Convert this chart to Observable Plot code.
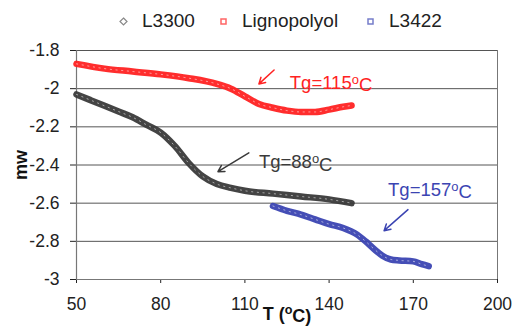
<!DOCTYPE html>
<html>
<head>
<meta charset="utf-8">
<script src="https://cdn.jsdelivr.net/npm/d3@7"></script>
<script src="https://cdn.jsdelivr.net/npm/@observablehq/plot@0.6"></script>
<style>
  html, body { margin: 0; padding: 0; background: #fff; }
  body { width: 514px; height: 327px; overflow: hidden; font-family: "Liberation Sans", Arial, sans-serif; }
  #legend { position: relative; width: 514px; height: 36px; font-size: 19px; color: #222; }
  #legend .item { position: absolute; top: 10px; display: flex; align-items: center; line-height: 22px; }
  #legend svg { margin-right: 14px; }
  g[aria-label="y-axis label"] text, g[aria-label="x-axis label"] text { font-weight: bold; font-size: 18px; fill: #111; }
</style>
</head>
<body>
<div id="legend"></div>
<div id="chart"></div>
<script>
// ---- data ----
const seriesNames = ["L3300", "Lignopolyol", "L3422"];
const seriesColors = ["#3a3a3a", "#ff2222", "#3b44b2"];

const l3300T = [50, 55, 60, 65, 70, 75, 80, 85, 90, 95, 100, 105, 110, 120, 130, 140, 148];
const l3300MW = [-2.03, -2.06, -2.09, -2.12, -2.15, -2.19, -2.23, -2.30, -2.39, -2.46, -2.50, -2.52, -2.535, -2.55, -2.565, -2.58, -2.60];

const ligT = [50, 60, 70, 80, 90, 100, 105, 110, 115, 120, 125, 130, 135, 140, 145, 148];
const ligMW = [-1.87, -1.895, -1.91, -1.925, -1.945, -1.975, -2.0, -2.04, -2.08, -2.10, -2.115, -2.122, -2.122, -2.11, -2.095, -2.088];

const l3422T = [120, 125, 130, 135, 140, 145, 150, 153, 156, 159, 162, 165, 170, 173, 175.5];
const l3422MW = [-2.615, -2.64, -2.66, -2.685, -2.71, -2.73, -2.765, -2.80, -2.84, -2.875, -2.895, -2.9, -2.905, -2.92, -2.93];

const xTicks = [50, 80, 110, 140, 170, 200];
const yTicks = [-1.8, -2, -2.2, -2.4, -2.6, -2.8, -3];

const noteText = ["Tg=88°C", "Tg=115°C", "Tg=157°C"];
const noteX = [115, 126, 161];
const noteY = [-2.387, -1.97, -2.53];
const arrowX1 = [111.4, 120.4, 168.1];
const arrowY1 = [-2.336, -1.902, -2.634];
const arrowX2 = [100.4, 115, 159.6];
const arrowY2 = [-2.435, -1.975, -2.744];

// ---- build tables ----
const seriesT = [l3300T, ligT, l3422T];
const seriesMW = [l3300MW, ligMW, l3422MW];
const rows = seriesNames.flatMap((name, i) =>
  seriesT[i].map((t, j) => ({series: name, t, mw: seriesMW[i][j]})));
const notes = noteText.map((text, i) => ({text, x: noteX[i], y: noteY[i], color: seriesColors[i],
  x1: arrowX1[i], y1: arrowY1[i], x2: arrowX2[i], y2: arrowY2[i]}));

const chart = Plot.plot({
  width: 514,
  height: 291,
  marginLeft: 76,
  marginRight: 17,
  marginTop: 14,
  marginBottom: 48,
  style: {fontFamily: "Liberation Sans, Arial, sans-serif", fontSize: "17.5px", color: "#222", background: "#fff"},
  x: {domain: [50, 200], ticks: xTicks, tickSize: 4, tickPadding: 14, label: "T (°C)", labelAnchor: "center", labelOffset: 40, labelArrow: "none"},
  y: {domain: [-3, -1.8], ticks: yTicks, tickFormat: d => String(+d.toFixed(1)), tickSize: 6, tickPadding: 11,
      label: "mw", labelAnchor: "center", labelOffset: 62, labelArrow: "none"},
  color: {domain: seriesNames, range: seriesColors},
  marks: [
    Plot.gridY(yTicks, {stroke: "#555", strokeOpacity: 1, strokeWidth: 1}),
    Plot.ruleX([200], {stroke: "#777", strokeWidth: 1}),
    Plot.ruleX([50], {stroke: "#777", strokeWidth: 1.2}),
    Plot.ruleY([-3], {stroke: "#777", strokeWidth: 1.2}),
    Plot.line(rows, {x: "t", y: "mw", z: "series", stroke: "series", strokeWidth: 6.5, curve: "monotone-x", strokeOpacity: 0.95}),
    Plot.line(rows, {x: "t", y: "mw", z: "series", stroke: "#fff", strokeWidth: 1, strokeDasharray: "1.2,4.5", strokeOpacity: 0.55, curve: "monotone-x"}),
    Plot.arrow(notes, {x1: "x1", y1: "y1", x2: "x2", y2: "y2", stroke: "color", strokeWidth: 1.5, headLength: 7, bend: 0}),
    Plot.text(notes, {x: "x", y: "y", text: "text", fill: "color", textAnchor: "start", fontSize: 18.5})
  ]
});

// render "°" as a superscript o, as in the original
d3.select(chart).selectAll("text").each(function() {
  const el = d3.select(this);
  if (el.selectAll("tspan").size() > 0) {
    el.selectAll("tspan").each(function() { supO(d3.select(this)); });
  } else supO(el);
});
function supO(el) {
  const s = el.text();
  if (!s.includes("°")) return;
  const [a, b] = s.split("°");
  el.text(null);
  el.append("tspan").text(a);
  el.append("tspan").attr("dy", "-0.4em").attr("font-size", "0.7em").text("o");
  el.append("tspan").attr("dy", "0.4em").text(b);
}

document.getElementById("chart").appendChild(chart);

// ---- legend ----
const legendLeft = [119, 219, 366];
const legend = document.getElementById("legend");
seriesNames.forEach((name, i) => {
  const item = document.createElement("div");
  item.className = "item";
  item.style.left = legendLeft[i] + "px";
  const sym = i === 0
    ? `<svg width="9" height="9" viewBox="0 0 9 9"><path d="M4.5 1 L8 4.5 L4.5 8 L1 4.5 Z" fill="#fff" stroke="#888" stroke-width="1.2"/></svg>`
    : `<svg width="9" height="9" viewBox="0 0 9 9"><rect x="2" y="2" width="5" height="5" fill="#fff" stroke="${seriesColors[i]}" stroke-width="1.5" stroke-opacity="0.7"/></svg>`;
  item.innerHTML = sym + `<span>${name}</span>`;
  legend.appendChild(item);
});
</script>
</body>
</html>
